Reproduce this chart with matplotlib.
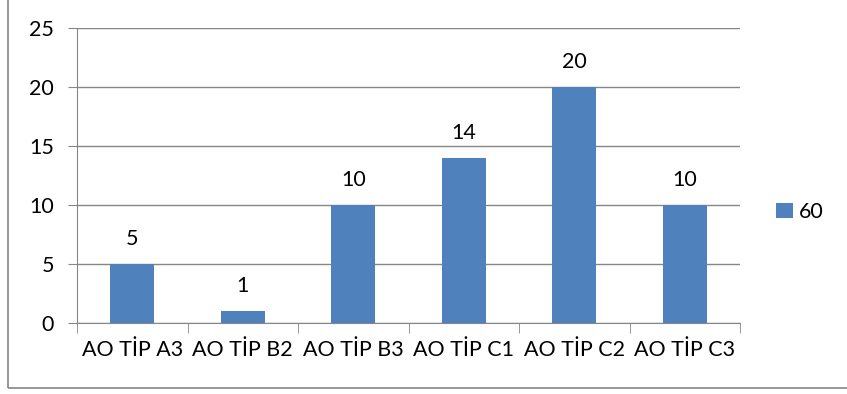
import matplotlib.pyplot as plt
import numpy as np
from matplotlib.patches import Rectangle

# ---------- data ----------
categories = ["AO TİP A3", "AO TİP B2", "AO TİP B3", "AO TİP C1", "AO TİP C2", "AO TİP C3"]
values = [5, 1, 10, 14, 20, 10]
series_name = "60"

bar_color = "#4F81BD"
grid_color = "#868686"
fs = 15.5

plt.rcParams['font.family'] = ['Lato', 'DejaVu Sans']

fig = plt.figure(figsize=(8.47, 3.94), dpi=100)
ax = fig.add_axes([77 / 847, 1 - 323 / 394, (740 - 77) / 847, (323 - 28) / 394])

x = np.arange(len(categories))
bars = ax.bar(x, values, width=0.4, color=bar_color, label=series_name, zorder=3)

for xi, v in zip(x, values):
    ax.annotate(str(v), (xi, v), xytext=(0, 11), textcoords='offset points',
                ha='center', va='bottom', fontsize=fs)

# ---------- axes ----------
ax.set_xlim(-0.5, len(categories) - 0.5)
ax.set_ylim(0, 25)
ax.set_yticks(np.arange(0, 26, 5))
ax.yaxis.grid(True, color=grid_color, linewidth=1, zorder=0)
ax.tick_params(axis='y', length=6.5, color=grid_color, labelsize=fs, pad=10)

ax.set_xticks(x)
ax.set_xticklabels(categories, fontsize=fs)
ax.tick_params(axis='x', length=0, pad=12)
ax.set_xticks(np.arange(-0.5, len(categories)), minor=True)
ax.tick_params(axis='x', which='minor', length=7, color=grid_color)

for side in ['top', 'right']:
    ax.spines[side].set_visible(False)
for side in ['left', 'bottom']:
    ax.spines[side].set_color(grid_color)

# ---------- legend ----------
fig.legend(handles=[bars], labels=[series_name], loc='center left',
           bbox_to_anchor=(757 / 847, 1 - 212 / 394), frameon=False,
           fontsize=fs, handlelength=0.75, handleheight=0.75, handletextpad=0.3)

# ---------- chart border ----------
fig.patches.append(Rectangle((8 / 847, 1 - 388 / 394), 1.0, 1.0,
                             transform=fig.transFigure, fill=False,
                             edgecolor=grid_color, linewidth=1.2))

fig.savefig("out.png", dpi=100)
